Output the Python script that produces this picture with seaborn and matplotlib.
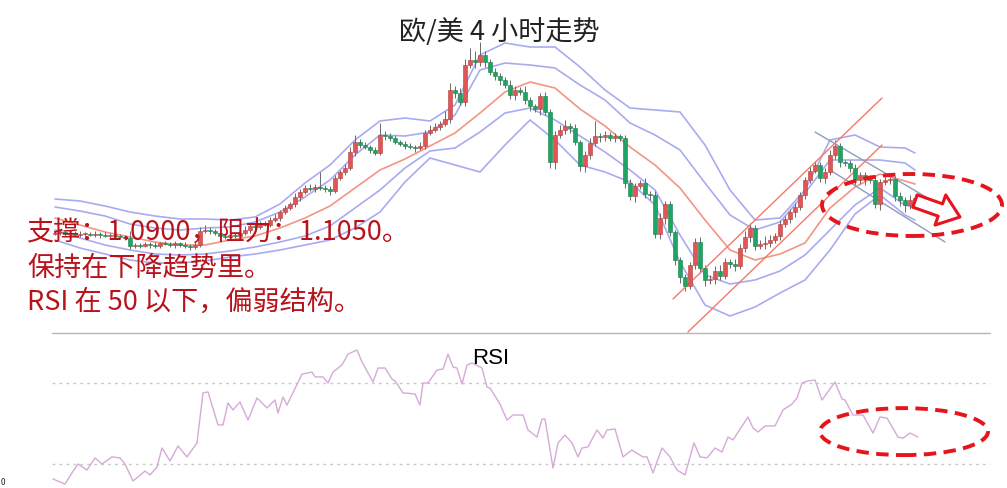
import numpy as np
import pandas as pd
import matplotlib
matplotlib.use("Agg")
import matplotlib.pyplot as plt
from matplotlib.patches import Ellipse
from matplotlib.lines import Line2D
import seaborn as sns

# ---------------- data ----------------
closes = [
    1.0914, 1.0916, 1.0912, 1.0914, 1.0910, 1.0912, 1.0912, 1.0910, 1.0912, 1.0910,
    1.0908, 1.0910, 1.0908, 1.0906, 1.0904, 1.0888, 1.0890, 1.0888, 1.0892, 1.0890,
    1.0888, 1.0894, 1.0892, 1.0890, 1.0894, 1.0890, 1.0888, 1.0886, 1.0890, 1.0918,
    1.0920, 1.0918, 1.0914, 1.0908, 1.0906, 1.0910, 1.0908, 1.0914, 1.0920, 1.0928,
    1.0926, 1.0932, 1.0930, 1.0940, 1.0944, 1.0956, 1.0964, 1.0972, 1.0986, 1.0996,
    1.1004, 1.1002, 1.1006, 1.1004, 1.1002, 1.0998, 1.1024, 1.1036, 1.1044, 1.1076,
    1.1096, 1.1090, 1.1086, 1.1080, 1.1074, 1.1110, 1.1108, 1.1104, 1.1096, 1.1092,
    1.1088, 1.1086, 1.1084, 1.1088, 1.1114, 1.1120, 1.1126, 1.1132, 1.1142, 1.1200,
    1.1194, 1.1176, 1.1250, 1.1260, 1.1256, 1.1270, 1.1256, 1.1236, 1.1228, 1.1220,
    1.1210, 1.1190, 1.1200, 1.1196, 1.1180, 1.1168, 1.1162, 1.1188, 1.1156, 1.1056,
    1.1110, 1.1120, 1.1128, 1.1124, 1.1096, 1.1048, 1.1070, 1.1094, 1.1108, 1.1106,
    1.1110, 1.1104, 1.1108, 1.1104, 1.1014, 1.0988, 1.1008, 1.1014, 1.0992, 1.0990,
    1.0912, 1.0944, 1.0972, 1.0916, 1.0860, 1.0826, 1.0808, 1.0850, 1.0896, 1.0844,
    1.0820, 1.0822, 1.0838, 1.0828, 1.0856, 1.0852, 1.0848, 1.0884, 1.0906, 1.0924,
    1.0888, 1.0892, 1.0894, 1.0900, 1.0908, 1.0932, 1.0942, 1.0956, 1.0966, 1.0990,
    1.1020, 1.1038, 1.1050, 1.1024, 1.1036, 1.1070, 1.1088, 1.1056, 1.1054, 1.1044,
    1.1020, 1.1030, 1.1022, 1.1020, 1.0972, 1.1016, 1.1020, 1.1022, 1.0988, 1.0980,
    1.0970, 1.0980, 1.0984,
]
first_open = 1.0912
wick_up_pips = [
    4, 6, 3, 5, 4, 6, 3, 4, 5, 3, 6, 4, 5, 3, 4,
    14, 4, 3, 5, 4, 6, 3, 4, 5, 4, 3, 5, 4, 6,
    8, 10, 5, 4, 6, 3, 5, 4, 6, 8, 5, 4, 6, 5,
    6, 8, 5, 6, 4, 8, 6, 5, 7, 6, 30, 5, 6,
    6, 5, 8, 10, 14, 6, 5, 4, 6, 24, 8, 5, 6, 4, 5, 6, 4,
    8, 6, 10, 8, 6, 16, 14, 8, 10, 12, 24, 18, 26, 8,
    6, 8, 5, 6, 10, 8, 6, 12, 5, 4, 6, 8,
    6, 8, 10, 12, 6, 8, 4, 8, 10, 30, 6, 8, 5, 6, 4,
    6, 8, 5, 6, 10, 6, 8, 10, 6, 5, 4, 6, 5,
    6, 8, 10, 6, 8, 10, 12, 8, 6, 10, 8, 12, 10,
    6, 8, 14, 10, 6, 8, 5, 6, 8, 5, 6, 10, 8,
    6, 8, 10, 12, 6, 5, 6, 8, 5, 6, 8, 10, 6, 5, 4, 6, 8, 5, 10, 6,
]
wick_dn_pips = [
    3, 5, 4, 6, 3, 4, 5, 3, 4, 6, 3, 5, 4, 3, 5,
    6, 4, 5, 3, 6, 4, 5, 3, 4, 6, 5, 4, 6, 5,
    5, 4, 6, 5, 8, 4, 6, 5, 3, 4, 6, 5, 4, 3,
    5, 4, 6, 5, 4, 6, 8, 5, 4, 6, 5, 6, 8,
    5, 4, 6, 5, 8, 6, 4, 6, 5, 4, 8, 6, 5, 4, 6, 5, 8,
    4, 6, 5, 4, 6, 5, 8, 10, 6, 8, 6, 12, 8, 10,
    6, 8, 10, 6, 8, 10, 6, 8, 10, 6, 12, 6,
    12, 14, 6, 8, 10, 6, 10, 12, 8, 6, 10, 8, 6, 8, 6,
    10, 8, 12, 6, 8, 10, 8, 10, 12, 8, 10, 12, 10,
    6, 8, 10, 12, 8, 10, 8, 6, 8, 10, 6, 8, 10,
    8, 6, 10, 8, 6, 8, 6, 8, 10, 6, 8, 6, 5,
    8, 10, 6, 8, 10, 6, 8, 10, 8, 12, 6, 8, 12, 6, 8, 10, 12, 14, 8, 6,
]

band_x = [0, 5, 10, 15, 20, 25, 30, 35, 40, 45, 50, 55, 60, 65, 70, 75, 80, 85,
          90, 95, 100, 105, 110, 115, 120, 125, 130, 135, 140, 145, 150, 155,
          160, 165, 170, 172]
band_upper2 = [1.0982, 1.0978, 1.0968, 1.0956, 1.0948, 1.0942, 1.0942, 1.0940, 1.0946,
               1.0972, 1.1014, 1.1050, 1.1100, 1.1138, 1.1144, 1.1138, 1.1170, 1.1270,
               1.1294, 1.1286, 1.1286, 1.1246, 1.1200, 1.1164, 1.1160, 1.1156, 1.1090,
               1.1000, 1.0940, 1.0944, 1.1000, 1.1100, 1.1110, 1.1086, 1.1084, 1.1074]
band_upper1 = [1.0966, 1.0958, 1.0948, 1.0932, 1.0924, 1.0920, 1.0924, 1.0926, 1.0936,
               1.0956, 1.0986, 1.1020, 1.1070, 1.1110, 1.1108, 1.1116, 1.1150, 1.1240,
               1.1254, 1.1250, 1.1244, 1.1210, 1.1180, 1.1134, 1.1110, 1.1080, 1.1014,
               1.0950, 1.0920, 1.0936, 1.0994, 1.1060, 1.1060, 1.1060, 1.1054, 1.1040]
band_mid = [1.0944, 1.0930, 1.0916, 1.0906, 1.0896, 1.0890, 1.0890, 1.0900, 1.0908,
            1.0924, 1.0944, 1.0968, 1.1004, 1.1040, 1.1062, 1.1088, 1.1114, 1.1154,
            1.1196, 1.1216, 1.1204, 1.1162, 1.1128, 1.1086, 1.1050, 1.1004, 1.0940,
            1.0880, 1.0860, 1.0872, 1.0894, 1.0964, 1.1006, 1.1032, 1.1018, 1.1012]
band_lower1 = [1.0920, 1.0904, 1.0890, 1.0880, 1.0872, 1.0870, 1.0872, 1.0878, 1.0886,
               1.0896, 1.0908, 1.0928, 1.0964, 1.1000, 1.1044, 1.1078, 1.1084, 1.1116,
               1.1154, 1.1164, 1.1140, 1.1108, 1.1076, 1.1040, 1.1000, 1.0910, 1.0830,
               1.0812, 1.0820, 1.0838, 1.0870, 1.0920, 1.0970, 1.1004, 1.0970, 1.0964]
band_lower2 = [1.0900, 1.0884, 1.0872, 1.0860, 1.0854, 1.0854, 1.0858, 1.0866, 1.0872,
               1.0880, 1.0890, 1.0900, 1.0924, 1.0956, 1.1016, 1.1064, 1.1050, 1.1036,
               1.1090, 1.1140, 1.1100, 1.1050, 1.1036, 1.1016, 1.0970, 1.0856, 1.0770,
               1.0748, 1.0766, 1.0794, 1.0820, 1.0880, 1.0952, 1.0990, 1.0950, 1.0940]

rsi_x = [-0.4, 2, 3.4, 4.6, 6.4, 8, 9.4, 11.4, 13, 14,
         15.6, 18, 19, 20.4, 21.4, 23, 24.6, 26.4, 28.4, 29.6,
         30.6, 32.6, 33.6, 34.6, 35.6, 37, 38.6, 40.4, 42.4, 44,
         44.6, 45.6, 46.4, 49.4, 51.4, 52, 53.6, 54.6, 55.6, 57.4,
         58.6, 60.4, 61.4, 63.6, 64.6, 66, 67.4, 68, 69.6, 72,
         73, 73.6, 74.6, 76.4, 77.6, 78.6, 79.6, 80.4, 81.4, 82.4,
         83.4, 85, 85.4, 86.4, 87, 89, 90.4, 91.6, 93.6, 94.6,
         96.4, 97.4, 98, 99.6, 100.6, 102, 103.4, 104.6, 105.4, 106.6,
         108.4, 109.6, 110.4, 112, 113.6, 115.4, 116, 117.6, 118.4, 119.6,
         121.4, 123, 124.4, 126, 127.8, 129, 130.4, 132, 133.4, 134.6,
         135.6, 138.6, 139.6, 140.6, 142, 144, 145.6, 147.4, 148.4, 149.4,
         150.6, 152, 153.4, 156, 157.4, 158, 159.6, 161.6, 163.6, 165,
         166.4, 168.6, 169.6, 171, 172.6]
rsi_val = [22.6, 20.1, 25.6, 30.0, 27.0, 33.0, 30.0, 33.5, 33.0, 30.0,
           21.6, 26.5, 24.6, 28.5, 37.9, 31.5, 38.9, 33.5, 40.4, 65.1,
           65.6, 49.3, 49.3, 60.1, 56.7, 60.6, 51.7, 62.6, 57.7, 61.6,
           55.2, 63.1, 59.1, 74.4, 75.4, 73.0, 73.0, 70.0, 75.4, 78.9,
           84.3, 86.3, 80.4, 70.5, 77.4, 77.4, 72.0, 71.0, 65.1, 64.6,
           59.1, 70.0, 70.0, 76.4, 76.9, 84.3, 77.9, 77.4, 69.5, 78.9,
           79.9, 77.9, 77.4, 68.0, 67.5, 59.6, 51.7, 54.2, 54.2, 46.8,
           43.3, 52.2, 52.2, 28.0, 40.4, 44.3, 40.4, 33.5, 37.9, 38.4,
           46.8, 42.8, 46.8, 47.3, 33.5, 36.9, 35.9, 33.5, 33.5, 25.6,
           37.9, 33.5, 27.0, 24.6, 40.4, 33.5, 33.0, 37.9, 35.9, 43.3,
           41.9, 53.2, 47.8, 45.8, 48.8, 48.8, 56.7, 59.6, 62.6, 70.0,
           71.0, 71.5, 61.6, 70.5, 62.1, 61.6, 54.2, 54.2, 45.3, 53.2,
           52.7, 43.3, 42.8, 45.3, 43.3]
rsi_levels = [70, 30]

# trend lines: (x0, y0, x1, y1) in bar index / price
red_channel = [(123.6, 1.0782, 165.4, 1.1184), (126.6, 1.0716, 165.4, 1.1090)]
blue_channel = [(152.0, 1.1116, 177.6, 1.0966), (155.0, 1.1040, 178.0, 1.0896)]
# highlight ellipses: (x center, y center, width, height)
price_ellipse = (171.4, 1.0970, 36.0, 0.0124)
rsi_ellipse = (169.8, 46.0, 33.6, 23.2)
arrow_from = (172.0, 1.0978)
arrow_to = (181.0, 1.0946)

title = "欧/美 4 小时走势"
notes = ["支撑：1.0900，阻力：1.1050。", "保持在下降趋势里。", "RSI 在 50 以下，偏弱结构。"]
rsi_title = "RSI"

# ---------------- drawing ----------------
sns.set_theme(style="white")
plt.rcParams['font.family'] = ['Noto Sans CJK SC', 'DejaVu Sans']

W, H = 1007, 488
fig = plt.figure(figsize=(W / 100, H / 100), dpi=100)
fig.patch.set_facecolor("white")
ax = fig.add_axes([0, 155 / H, 1, 333 / H])
axr = fig.add_axes([0, 0, 1, 153 / H])
xlim = (-11, -11 + W / 5)
for a in (ax, axr):
    a.set_xlim(*xlim)
    a.axis("off")
ax.set_ylim(1.0714, 1.1380)
axr.set_ylim(18.15, 93.7)

# Bollinger bands
blue_band = "#a9abf0"
for vals in (band_upper2, band_upper1, band_lower1, band_lower2):
    sns.lineplot(x=band_x, y=vals, ax=ax, color=blue_band, lw=1.2, zorder=2,
                 sort=False, estimator=None)
sns.lineplot(x=band_x, y=band_mid, ax=ax, color="#f39583", lw=1.2, zorder=2,
             sort=False, estimator=None)

# candles
c = np.array(closes)
o = np.array([first_open] + closes[:-1])
hi = np.maximum(o, c) + np.array(wick_up_pips) * 1e-4
lo = np.minimum(o, c) - np.array(wick_dn_pips) * 1e-4
idx = np.arange(len(c))
up = c >= o
ax.vlines(idx, lo, hi, colors="#6a6a6a", lw=0.7, zorder=3)
body_bot = np.minimum(o, c)
body_h = np.maximum(np.abs(c - o), 0.00012)
ax.bar(idx[up], body_h[up], bottom=body_bot[up], width=0.75,
       color="#e05656", edgecolor="#b43c3c", lw=0.4, zorder=4)
ax.bar(idx[~up], body_h[~up], bottom=body_bot[~up], width=0.75,
       color="#1fa463", edgecolor="#17804b", lw=0.4, zorder=4)

# trend channels
for x0, y0, x1, y1 in red_channel:
    ax.plot([x0, x1], [y0, y1], color="#f27a6a", lw=1.0, zorder=3, clip_on=False)
for x0, y0, x1, y1 in blue_channel:
    ax.plot([x0, x1], [y0, y1], color="#8e9cc0", lw=1.0, zorder=3)

# highlight ellipse + arrow
red = "#e5141d"
ex, ey, ew, eh = price_ellipse
ax.add_patch(Ellipse((ex, ey), ew, eh, fill=False, ec=red, lw=2.8,
                     ls=(0, (3.2, 1.9)), zorder=6))
ax.annotate("", xy=arrow_to, xytext=arrow_from,
            arrowprops=dict(arrowstyle="simple,head_length=0.75,head_width=1.15,tail_width=0.47",
                            mutation_scale=20, fc="white", ec=red, lw=2.2,
                            shrinkA=0, shrinkB=0), zorder=7)

# RSI panel
axr.hlines(rsi_levels, -0.6, 187, colors="#c9c9c9", linestyles=(0, (2, 3)), lw=1)
sns.lineplot(x=rsi_x, y=rsi_val, ax=axr, color="#d6a9d8", lw=1.0, sort=False,
             estimator=None, zorder=3)
rx, ry, rw, rh = rsi_ellipse
axr.add_patch(Ellipse((rx, ry), rw, rh, fill=False, ec=red, lw=2.8,
                      ls=(0, (3.2, 1.9)), zorder=6))

# separator line between panels
fig.add_artist(Line2D([52 / W, 990 / W], [1 - 333 / H] * 2, color="#b5b5b5", lw=1))

# texts
fig.text(499 / W, 1 - 32 / H, title, ha="center", va="center", fontsize=19.5,
         color="#222222")
for line, yp in zip(notes, [233, 268, 302]):
    fig.text(27 / W, 1 - yp / H, line, ha="left", va="center", fontsize=19.5,
             color="#b8121b", zorder=10)
fig.text(491 / W, 1 - 358 / H, rsi_title, ha="center", va="center", fontsize=16,
         family=["Liberation Sans", "DejaVu Sans"], color="black")
fig.text(1 / W, 1 / H, "0", ha="left", va="bottom", fontsize=6, color="#222222")

fig.savefig("out.png", dpi=100, facecolor="white")
